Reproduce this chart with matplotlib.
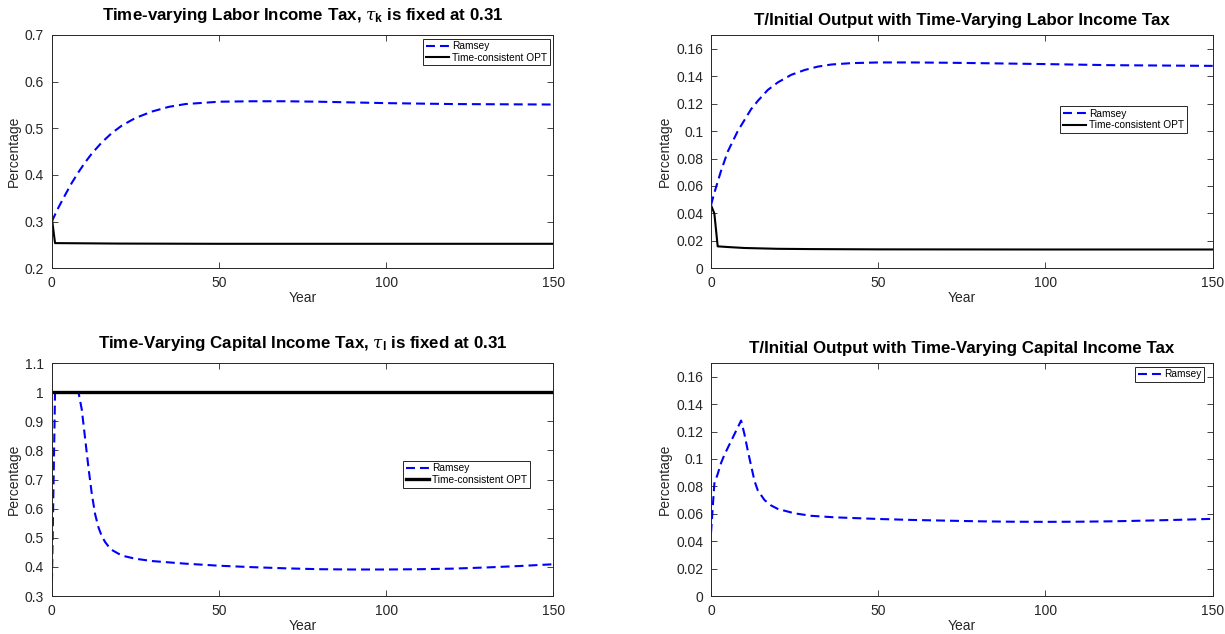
import matplotlib
matplotlib.use("Agg")
import matplotlib.pyplot as plt
from matplotlib.ticker import FormatStrFormatter, MultipleLocator

plt.rcParams['font.family'] = ['Liberation Sans', 'DejaVu Sans']
plt.rcParams['mathtext.fontset'] = 'custom'
plt.rcParams['mathtext.it'] = 'DejaVu Serif:italic'
plt.rcParams['mathtext.bf'] = 'Liberation Sans:bold'
plt.rcParams['mathtext.rm'] = 'Liberation Sans'

# ---- Labor income tax path (tau_k fixed at 0.31) ----
lab_ramsey_t = [0, 2, 4, 6, 8, 10, 12, 15, 18, 21, 25, 30, 35, 40, 50, 60, 70, 80, 100, 120, 150]
lab_ramsey = [0.300, 0.330, 0.357, 0.383, 0.406, 0.427, 0.446, 0.470, 0.490, 0.506, 0.522,
              0.536, 0.546, 0.552, 0.557, 0.558, 0.558, 0.557, 0.554, 0.552, 0.551]
lab_tc_t = [0, 1, 20, 50, 100, 150]
lab_tc = [0.310, 0.254, 0.253, 0.2525, 0.2525, 0.2525]

# ---- Transfers / initial output under labor income tax ----
tl_ramsey_t = [0, 1, 2, 3, 4, 5, 6, 8, 10, 12, 14, 17, 20, 24, 28, 32, 36, 42, 50, 60, 70, 80, 100, 120, 150]
tl_ramsey = [0.046, 0.055, 0.063, 0.071, 0.078, 0.085, 0.090, 0.100, 0.108, 0.116, 0.122, 0.130,
             0.1355, 0.141, 0.1445, 0.147, 0.1485, 0.1495, 0.150, 0.150, 0.1498, 0.1495, 0.1488,
             0.148, 0.1475]
tl_tc_t = [0, 1, 2, 5, 10, 20, 30, 50, 100, 150]
tl_tc = [0.046, 0.040, 0.016, 0.0155, 0.0148, 0.0142, 0.0140, 0.0138, 0.0137, 0.0137]

# ---- Capital income tax path (tau_l fixed at 0.31) ----
cap_ramsey_t = [0, 1, 2, 8, 9, 10, 11, 12, 13, 14, 15, 16, 17, 18, 20, 22, 25, 30, 40, 50, 60,
                70, 80, 90, 100, 110, 120, 130, 140, 150]
cap_ramsey = [0.300, 1.000, 1.000, 1.000, 0.940, 0.840, 0.740, 0.650, 0.580, 0.535, 0.505,
              0.485, 0.470, 0.458, 0.445, 0.436, 0.428, 0.420, 0.411, 0.404, 0.399, 0.395,
              0.392, 0.391, 0.391, 0.392, 0.394, 0.398, 0.403, 0.409]
cap_tc_t = [0, 150]
cap_tc = [1.0, 1.0]

# ---- Transfers / initial output under capital income tax ----
tk_ramsey_t = [0, 1, 2, 3, 4, 5, 6, 7, 8, 9, 10, 11, 12, 13, 14, 15, 16, 18, 20, 25, 30, 37,
               50, 60, 70, 80, 90, 100, 110, 120, 130, 140, 150]
tk_ramsey = [0.046, 0.082, 0.089, 0.097, 0.103, 0.108, 0.113, 0.118, 0.123, 0.128, 0.118,
             0.106, 0.095, 0.084, 0.077, 0.0735, 0.070, 0.066, 0.0635, 0.0603, 0.0585, 0.0574,
             0.0562, 0.0555, 0.0550, 0.0545, 0.0542, 0.0541, 0.0542, 0.0545, 0.0550, 0.0556,
             0.0563]

x_ticks = [0, 50, 100, 150]
ramsey_label = "Ramsey"
tc_label = "Time-consistent OPT"

AX_COLOR = '#262626'
BLUE = '#0000ff'
DASH = (0, (4.3, 2.4))
TITLE_SIZE = 12.2

fig = plt.figure(figsize=(12.25, 6.34), dpi=100)

W, H = 1225.0, 634.0
def place(left_px, top_px, right_px, bottom_px):
    return fig.add_axes([left_px / W, 1 - bottom_px / H, (right_px - left_px) / W,
                         (bottom_px - top_px) / H])

ax1 = place(51.7, 35.0, 553.3, 268.3)
ax2 = place(711.0, 35.0, 1212.7, 268.3)
ax3 = place(51.7, 363.0, 553.3, 596.0)
ax4 = place(711.0, 363.0, 1212.7, 596.0)


def style(ax, ylim, ystep):
    ax.set_xlim(0, 150)
    ax.set_ylim(*ylim)
    ax.set_xticks(x_ticks)
    ax.yaxis.set_major_locator(MultipleLocator(ystep))
    ax.yaxis.set_major_formatter(FormatStrFormatter('%g'))
    ax.tick_params(direction='in', top=True, right=True, length=4, width=0.6,
                   colors=AX_COLOR, labelsize=10, pad=5.5)
    for s in ax.spines.values():
        s.set_color(AX_COLOR)
        s.set_linewidth(0.7)
    ax.set_xlabel('Year', fontsize=10, color=AX_COLOR, labelpad=1)
    ax.set_ylabel('Percentage', fontsize=10, color=AX_COLOR, labelpad=3)


def legend(ax, **kw):
    leg = ax.legend(fontsize=7.3, frameon=True, fancybox=False, framealpha=1,
                    edgecolor=AX_COLOR, handlelength=2.3, handletextpad=0.3,
                    labelspacing=0.15, borderpad=0.25, borderaxespad=0.35, **kw)
    leg.get_frame().set_linewidth(0.7)
    return leg


# Top left: labor income tax
ax1.plot(lab_ramsey_t, lab_ramsey, color=BLUE, lw=1.5, linestyle=DASH, label=ramsey_label)
ax1.plot(lab_tc_t, lab_tc, color='black', lw=1.5, label=tc_label)
style(ax1, (0.2, 0.7), 0.1)
legend(ax1, loc='upper right')
ax1.set_title(r'Time-varying Labor Income Tax, $\tau_\mathbf{k}$ is fixed at 0.31',
              fontsize=TITLE_SIZE, fontweight='bold', pad=11)

# Top right: transfers with labor tax
ax2.plot(tl_ramsey_t, tl_ramsey, color=BLUE, lw=1.5, linestyle=DASH, label=ramsey_label)
ax2.plot(tl_tc_t, tl_tc, color='black', lw=1.5, label=tc_label)
style(ax2, (0, 0.17), 0.02)
legend(ax2, loc='upper right', bbox_to_anchor=(0.955, 0.71))
ax2.set_title('T/Initial Output with Time-Varying Labor Income Tax',
              fontsize=TITLE_SIZE, fontweight='bold', pad=7)

# Bottom left: capital income tax
ax3.plot(cap_ramsey_t, cap_ramsey, color=BLUE, lw=1.5, linestyle=DASH, label=ramsey_label)
ax3.plot(cap_tc_t, cap_tc, color='black', lw=2.4, label=tc_label)
style(ax3, (0.3, 1.1), 0.1)
legend(ax3, loc='upper right', bbox_to_anchor=(0.96, 0.595))
ax3.set_title(r'Time-Varying Capital Income Tax, $\tau_\mathbf{l}$ is fixed at 0.31',
              fontsize=TITLE_SIZE, fontweight='bold', pad=11)

# Bottom right: transfers with capital tax
ax4.plot(tk_ramsey_t, tk_ramsey, color=BLUE, lw=1.5, linestyle=DASH, label=ramsey_label)
style(ax4, (0, 0.17), 0.02)
legend(ax4, loc='upper right', bbox_to_anchor=(0.99, 1.0))
ax4.set_title('T/Initial Output with Time-Varying Capital Income Tax',
              fontsize=TITLE_SIZE, fontweight='bold', pad=7)

fig.savefig('out.png', dpi=100)
